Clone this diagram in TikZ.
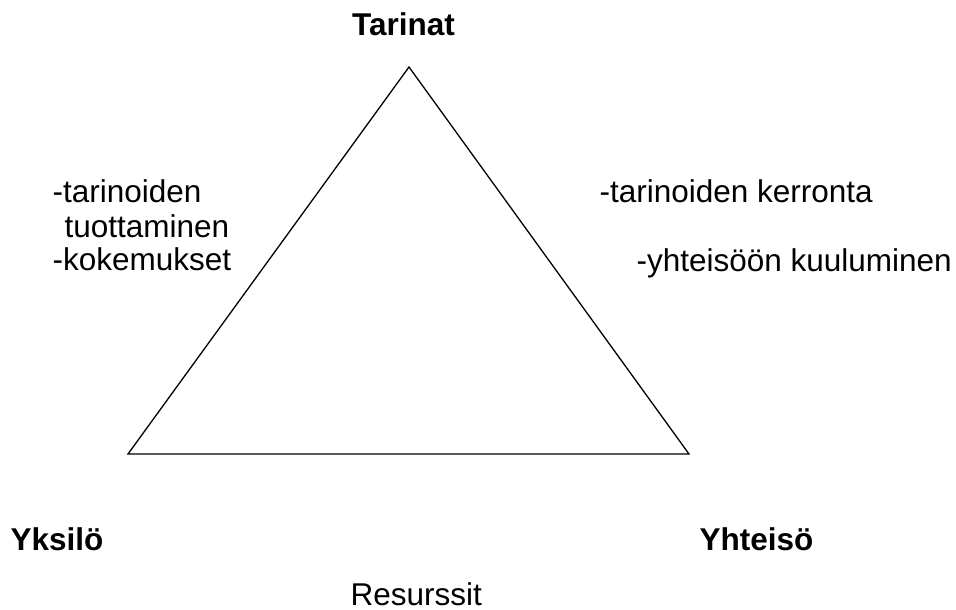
\documentclass[tikz,border=0pt]{standalone}
\usepackage{fontspec}
\setmainfont{Liberation Sans}
\usetikzlibrary{positioning}

\begin{document}
\begin{tikzpicture}[x=1pt,y=-1pt]
 \useasboundingbox (0,0) rectangle (956,610);
 \begin{scope}[line width=1.3pt,black,
   txt/.style={anchor=base west,inner sep=0pt,font=\fontsize{31.5}{36}\selectfont},
   head/.style={txt,font=\fontsize{31.5}{36}\selectfont\bfseries}]
   %Dreieck
   \coordinate (top) at (409, 67);
   \coordinate (left) at (128, 454);
   \coordinate (right) at (689, 454);
   \draw[line join=miter] (top) -- (left) -- (right) -- cycle;

   \node [head,anchor=base] (tarinat) at (403.5,36) {Tarinat};
   \node [head] (yksilo) at (10,550) {Yksilö};
   \node [head] (yhteiso) at (699,550) {Yhteisö};
   \node [txt] (resurssit) at (350,605) {Resurssit};

   %links
   \node [txt] (tuotto1) at (52,202) {-tarinoiden};
   \node [txt] (tuotto2) at (64,237) {tuottaminen};
   \node [txt] (kokemus) at (52,270) {-kokemukset};

   %rechts
   \node [txt] (kerronta) at (599,202) {-tarinoiden kerronta};
   \node [txt] (kuulu) at (636,271) {-yhteisöön kuuluminen};
 \end{scope}
\end{tikzpicture}
\end{document}
